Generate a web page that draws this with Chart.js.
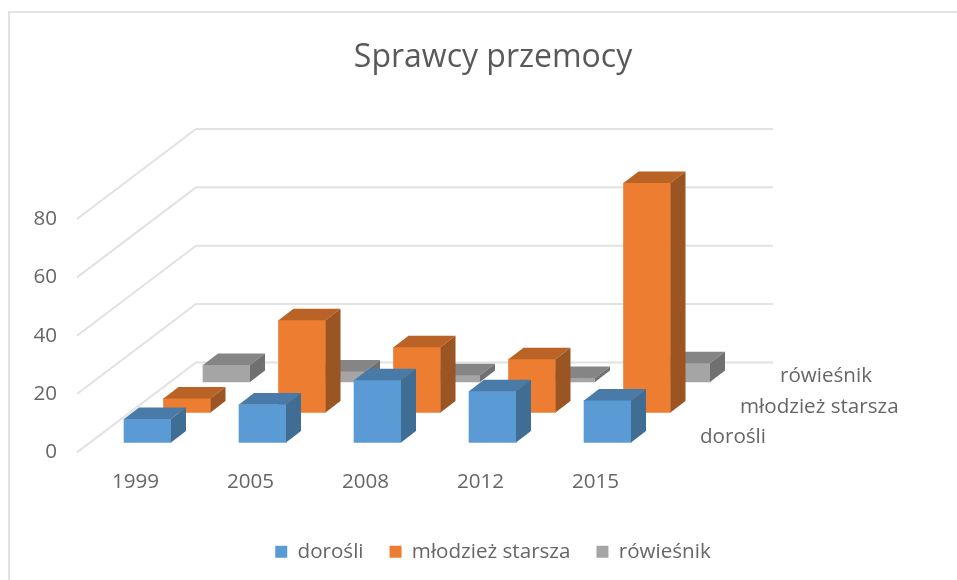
<!DOCTYPE html>
<html lang="pl">
<head>
<meta charset="utf-8">
<title>Sprawcy przemocy</title>
<script src="https://cdn.jsdelivr.net/npm/chart.js@4"></script>
<style>
  body { margin: 0; background: #fff; }
  canvas { display: block; }
</style>
</head>
<body>
<canvas id="chart" width="957" height="580"></canvas>
<script>
// dane
const years = ['1999', '2005', '2008', '2012', '2015'];
const dorosli = [8, 13, 21.3, 17.5, 14.4];
const mlodziez = [4.8, 31.6, 22.3, 18.2, 78.6];
const rowiesnik = [5.8, 3.6, 2.3, 1.3, 6.4];
const yTicks = [0, 20, 40, 60, 80];

const textColor = '#666666';
const fontName = '"Open Sans", sans-serif';
const fontSize = 20.6;

// kolory: front, gora, bok
const frontColors = ['#5b9bd5', '#ed7d31', '#a5a5a5'];
const topColors = ['#4a7ba8', '#b96327', '#858585'];
const sideColors = ['#3f6d94', '#9b5522', '#707070'];

// przesuniecie kazdej serii w glab wykresu
const seriesDepthX = [12, 51.5, 91];
const seriesDepthY = [-10, -40, -70.5];
const wallX = 118;
const wallY = -90;
const boxX = 15;
const boxY = -11.5;

function polygon(ctx, points, color) {
  ctx.fillStyle = color;
  ctx.beginPath();
  points.forEach((p, i) => (i === 0 ? ctx.moveTo(p[0], p[1]) : ctx.lineTo(p[0], p[1])));
  ctx.closePath();
  ctx.fill();
}

const fake3d = {
  id: 'fake3d',
  // ramka i siatka na scianach
  beforeDatasetsDraw(chart) {
    const ctx = chart.ctx;
    const area = chart.chartArea;
    const yScale = chart.scales.y;

    ctx.save();
    ctx.strokeStyle = '#e2e2e2';
    ctx.lineWidth = 2;
    ctx.beginPath();
    ctx.moveTo(9, chart.height);
    ctx.lineTo(9, 12);
    ctx.lineTo(chart.width, 12);
    ctx.stroke();

    yScale.ticks.forEach(tick => {
      const y = yScale.getPixelForValue(tick.value);
      ctx.beginPath();
      ctx.moveTo(area.left - 1, y);
      ctx.lineTo(area.left + wallX, y + wallY);
      ctx.lineTo(area.right + wallX + 2, y + wallY);
      ctx.stroke();
    });
    ctx.restore();
  },
  beforeDatasetDraw(chart, args) {
    chart.ctx.save();
    chart.ctx.translate(seriesDepthX[args.index], seriesDepthY[args.index]);
  },
  // front rysuje Chart.js, tu dokladamy gore i bok
  afterDatasetDraw(chart, args) {
    const ctx = chart.ctx;
    const i = args.index;
    args.meta.data.forEach(bar => {
      const left = bar.x - bar.width / 2;
      const right = bar.x + bar.width / 2;
      polygon(ctx, [
        [left, bar.y],
        [left + boxX, bar.y + boxY],
        [right + boxX, bar.y + boxY],
        [right, bar.y]
      ], topColors[i]);
      polygon(ctx, [
        [right, bar.y],
        [right + boxX, bar.y + boxY],
        [right + boxX, bar.base + boxY],
        [right, bar.base]
      ], sideColors[i]);
    });
    ctx.restore();
  },
  // podpisy osi glebokosci po prawej
  afterDraw(chart) {
    const ctx = chart.ctx;
    const area = chart.chartArea;
    ctx.save();
    ctx.font = fontSize + 'px ' + fontName;
    ctx.fillStyle = textColor;
    ctx.textAlign = 'left';
    ctx.textBaseline = 'middle';
    chart.data.datasets.forEach((ds, i) => {
      ctx.fillText(ds.label, area.right + 47 + i * 40, area.bottom - 15 - i * 30.5);
    });
    ctx.restore();
  }
};

new Chart(document.getElementById('chart'), {
  type: 'bar',
  data: {
    labels: years,
    datasets: [
      { label: 'dorośli', data: dorosli, backgroundColor: frontColors[0] },
      { label: 'młodzież starsza', data: mlodziez, backgroundColor: frontColors[1] },
      { label: 'rówieśnik', data: rowiesnik, backgroundColor: frontColors[2] }
    ]
  },
  options: {
    responsive: false,
    animation: false,
    clip: false,
    grouped: false,
    barThickness: 47,
    layout: { padding: { left: 29, bottom: 8 } },
    scales: {
      x: {
        grid: { display: false, drawTicks: false },
        border: { display: false },
        ticks: { color: textColor, font: { family: fontName, size: fontSize }, padding: 17, maxRotation: 0 },
        afterFit: scale => { scale.height = 63; }
      },
      y: {
        min: 0,
        max: 80,
        grid: { display: false, drawTicks: false },
        border: { display: false },
        afterBuildTicks: scale => { scale.ticks = yTicks.map(value => ({ value })); },
        ticks: { color: textColor, font: { family: fontName, size: fontSize }, padding: 21 },
        afterFit: scale => { scale.width = 49; }
      },
      // pusta os: rezerwuje miejsce na sciane i podpisy po prawej
      spacer: {
        type: 'linear',
        position: 'right',
        grid: { display: false, drawTicks: false },
        border: { display: false },
        ticks: { display: false },
        afterFit: scale => { scale.width = 304; }
      }
    },
    plugins: {
      title: {
        display: true,
        text: 'Sprawcy przemocy',
        color: '#595959',
        font: { family: fontName, size: 32, weight: 'normal' },
        padding: { top: 39, bottom: 141.6 }
      },
      legend: {
        position: 'bottom',
        labels: { color: textColor, font: { family: fontName, size: fontSize }, boxWidth: 12, boxHeight: 12, padding: 26 }
      },
      tooltip: { enabled: false }
    }
  },
  plugins: [fake3d]
});
</script>
</body>
</html>
